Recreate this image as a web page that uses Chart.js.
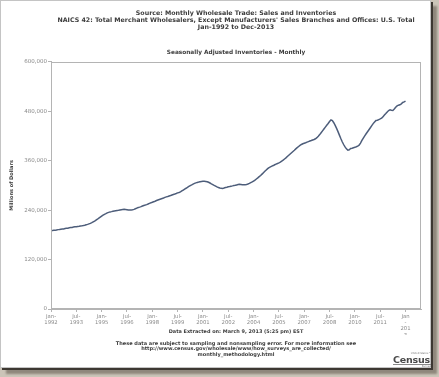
<!DOCTYPE html>
<html>
<head>
<meta charset="utf-8">
<title>Monthly Wholesale Trade: Inventories</title>
<script src="https://cdn.jsdelivr.net/npm/chart.js@4"></script>
<style>
  html, body { margin: 0; padding: 0; }
  body { width: 439px; height: 377px; background: #cbc4b8; position: relative; overflow: hidden; font-family: "DejaVu Sans", Verdana, sans-serif; }
  .card { position: absolute; left: 0; top: 0; width: 429px; height: 366px; background: #fff; border: 1px solid #c4c4c4; box-shadow: 2px 2px 0 #3d3832, 6px 6px 2px #8f877c; }
  #chart { position: absolute; left: 0; top: 0; }
  .txt { position: absolute; text-align: center; font-weight: bold; color: #3c3c3c; white-space: nowrap; }
  .head { left: 36px; width: 400px; top: 9px; font-size: 6.3px; line-height: 7.1px; }
  .extract { left: 36px; width: 400px; top: 328.5px; font-size: 4.95px; line-height: 5px; }
  .notes { left: 36px; width: 400px; top: 340.5px; font-size: 5px; line-height: 5.5px; }
  .logo { position: absolute; left: 393px; top: 352px; width: 38px; color: #4a4a4a; }
  .logo .small { font-size: 2.6px; line-height: 3px; text-align: right; color: #777; }
  .logo .big { font-size: 9.5px; line-height: 9px; font-weight: bold; letter-spacing: -0.2px; border-bottom: 1px solid #888; }
</style>
</head>
<body>
<div class="card"></div>
<canvas id="chart" width="439" height="377"></canvas>
<div class="txt head">Source: Monthly Wholesale Trade: Sales and Inventories<br>NAICS 42: Total Merchant Wholesalers, Except Manufacturers' Sales Branches and Offices: U.S. Total<br>Jan-1992 to Dec-2013</div>
<div class="txt extract">Data Extracted on: March 9, 2013 (5:25 pm) EST</div>
<div class="txt notes">These data are subject to sampling and nonsampling error. For more information see<br>http://www.census.gov/wholesale/www/how_surveys_are_collected/<br>monthly_methodology.html</div>
<div class="logo"><div class="small">United States&trade;</div><div class="big">Census</div><div class="small">Bureau</div></div>
<script>
  // month index 0 = Jan-1992, last slot on the axis = Dec-2013
  const axisMonths = 263;
  const tickEvery = 18;

  // seasonally adjusted inventories, millions of dollars, Jan-1992 .. Jan-2013
  const inventories = [
    190000, 190500, 191200, 191000, 192000, 192800, 193100, 193900, 194500, 194200, 195300, 196000, // 1992
    196400, 197200, 197800, 198000, 198900, 199500, 199900, 200400, 200800, 201500, 202000, 202600, // 1993
    203500, 204600, 205500, 206800, 208000, 209700, 211600, 213500, 215800, 218000, 220600, 223000, // 1994
    225500, 227800, 229900, 231600, 233400, 234600, 235800, 236500, 237300, 238000, 238600, 239200, // 1995
    239600, 240300, 241000, 241600, 242000, 241800, 241300, 240700, 240300, 240600, 241200, 242000, // 1996
    243500, 245000, 246400, 247500, 248700, 250200, 251500, 252400, 253500, 255000, 256600, 257900, // 1997
    259400, 260600, 261800, 263400, 264700, 266000, 267200, 268400, 269600, 271000, 272400, 273300, // 1998
    274500, 275600, 277000, 278200, 279300, 280600, 282000, 283000, 284600, 286800, 289000, 291300, // 1999
    293200, 295500, 297600, 299800, 301500, 303400, 305000, 306400, 307500, 308200, 309000, 309600, // 2000
    310000, 310300, 309800, 309200, 307800, 306000, 304000, 302200, 300300, 298500, 296600, 295000, // 2001
    293800, 293000, 292900, 293800, 295000, 295800, 296800, 297400, 298300, 299000, 299900, 300500, // 2002
    301400, 302200, 303000, 302500, 302000, 301800, 301700, 302400, 303600, 305000, 306800, 308600, // 2003
    310800, 313000, 315700, 318400, 321400, 324200, 327600, 331000, 334500, 337600, 340800, 343500, // 2004
    345200, 346900, 348400, 350300, 351900, 353400, 355000, 356800, 359000, 361600, 364400, 367000, // 2005
    370200, 373300, 376400, 379600, 382600, 385600, 388900, 391800, 394700, 397400, 399600, 401400, // 2006
    402600, 403700, 405200, 406600, 407900, 409200, 410600, 411800, 413500, 416000, 419600, 423600, // 2007
    428000, 432600, 437300, 441800, 446400, 450600, 455500, 459200, 457600, 452400, 446000, 438600, // 2008
    430800, 422300, 414000, 406200, 399500, 393600, 389000, 386000, 386800, 389800, 390600, 391800, // 2009
    392600, 394000, 395600, 398000, 403000, 409600, 415200, 420300, 425600, 430500, 435400, 440300, // 2010
    445400, 450200, 454200, 457800, 458400, 460000, 461600, 463400, 467200, 471000, 474700, 478600, // 2011
    482000, 483700, 482800, 482000, 485600, 490000, 493200, 495000, 496000, 498400, 501600, 503000, // 2012
    505000                                                                                           // 2013
  ];

  const xTickLabels = [
    ["Jan-", "1992"], ["Jul-", "1993"], ["Jan-", "1995"], ["Jul-", "1996"], ["Jan-", "1998"],
    ["Jul-", "1999"], ["Jan-", "2001"], ["Jul-", "2002"], ["Jan-", "2004"], ["Jul-", "2005"],
    ["Jan-", "2007"], ["Jul-", "2008"], ["Jan-", "2010"], ["Jul-", "2011"], ["Jan", "-", "201", "3"]
  ];

  const yMax = 600000;
  const yStep = 120000;

  const plotFrame = {
    id: "plotFrame",
    afterDraw(chart) {
      const { ctx, chartArea: a } = chart;
      ctx.save();
      ctx.strokeStyle = "#b4b4b4";
      ctx.lineWidth = 1;
      ctx.strokeRect(Math.round(a.left) + 0.5, Math.round(a.top) + 0.5, Math.round(a.width) - 1, Math.round(a.height) - 1);
      ctx.restore();
    },
  };

  Chart.defaults.font.family = '"DejaVu Sans", Verdana, sans-serif';
  Chart.defaults.color = "#8a8a8a";

  new Chart(document.getElementById("chart"), {
    type: "line",
    data: {
      datasets: [{
        data: inventories.map((v, i) => ({ x: i, y: v })),
        borderColor: "#4d5d7a",
        borderWidth: 1.5,
        pointRadius: 0,
        tension: 0,
      }],
    },
    options: {
      responsive: false,
      animation: false,
      layout: { padding: { left: 0, right: 18, top: 0, bottom: 42 } },
      plugins: {
        legend: { display: false },
        tooltip: { enabled: false },
        title: {
          display: true,
          fullSize: false,
          text: "Seasonally Adjusted Inventories - Monthly",
          color: "#3c3c3c",
          font: { size: 5.8, weight: "bold", lineHeight: 1.2 },
          padding: { top: 49, bottom: 6 },
        },
      },
      scales: {
        x: {
          type: "linear",
          min: 0,
          max: axisMonths,
          afterFit: (s) => { s.height = 26; },
          border: { color: "#b4b4b4" },
          grid: { display: true, drawOnChartArea: false, tickLength: 3, color: "#b4b4b4" },
          ticks: {
            stepSize: tickEvery,
            includeBounds: false,
            autoSkip: false,
            maxRotation: 0,
            padding: 1,
            font: { size: 5.3, lineHeight: 1.2 },
            callback: (v) => xTickLabels[v / tickEvery],
          },
        },
        y: {
          min: 0,
          max: yMax,
          afterFit: (s) => { s.width = 51; },
          border: { color: "#b4b4b4" },
          grid: { display: true, drawOnChartArea: false, tickLength: 3, color: "#b4b4b4" },
          ticks: {
            stepSize: yStep,
            padding: 1,
            font: { size: 5.5 },
            callback: (v) => v.toLocaleString("en-US"),
          },
          title: {
            display: true,
            text: "Millions of Dollars",
            color: "#3c3c3c",
            font: { size: 5, weight: "bold", lineHeight: 1.2 },
            padding: { top: 9, bottom: 0 },
          },
        },
      },
    },
    plugins: [plotFrame],
  });
</script>
</body>
</html>
